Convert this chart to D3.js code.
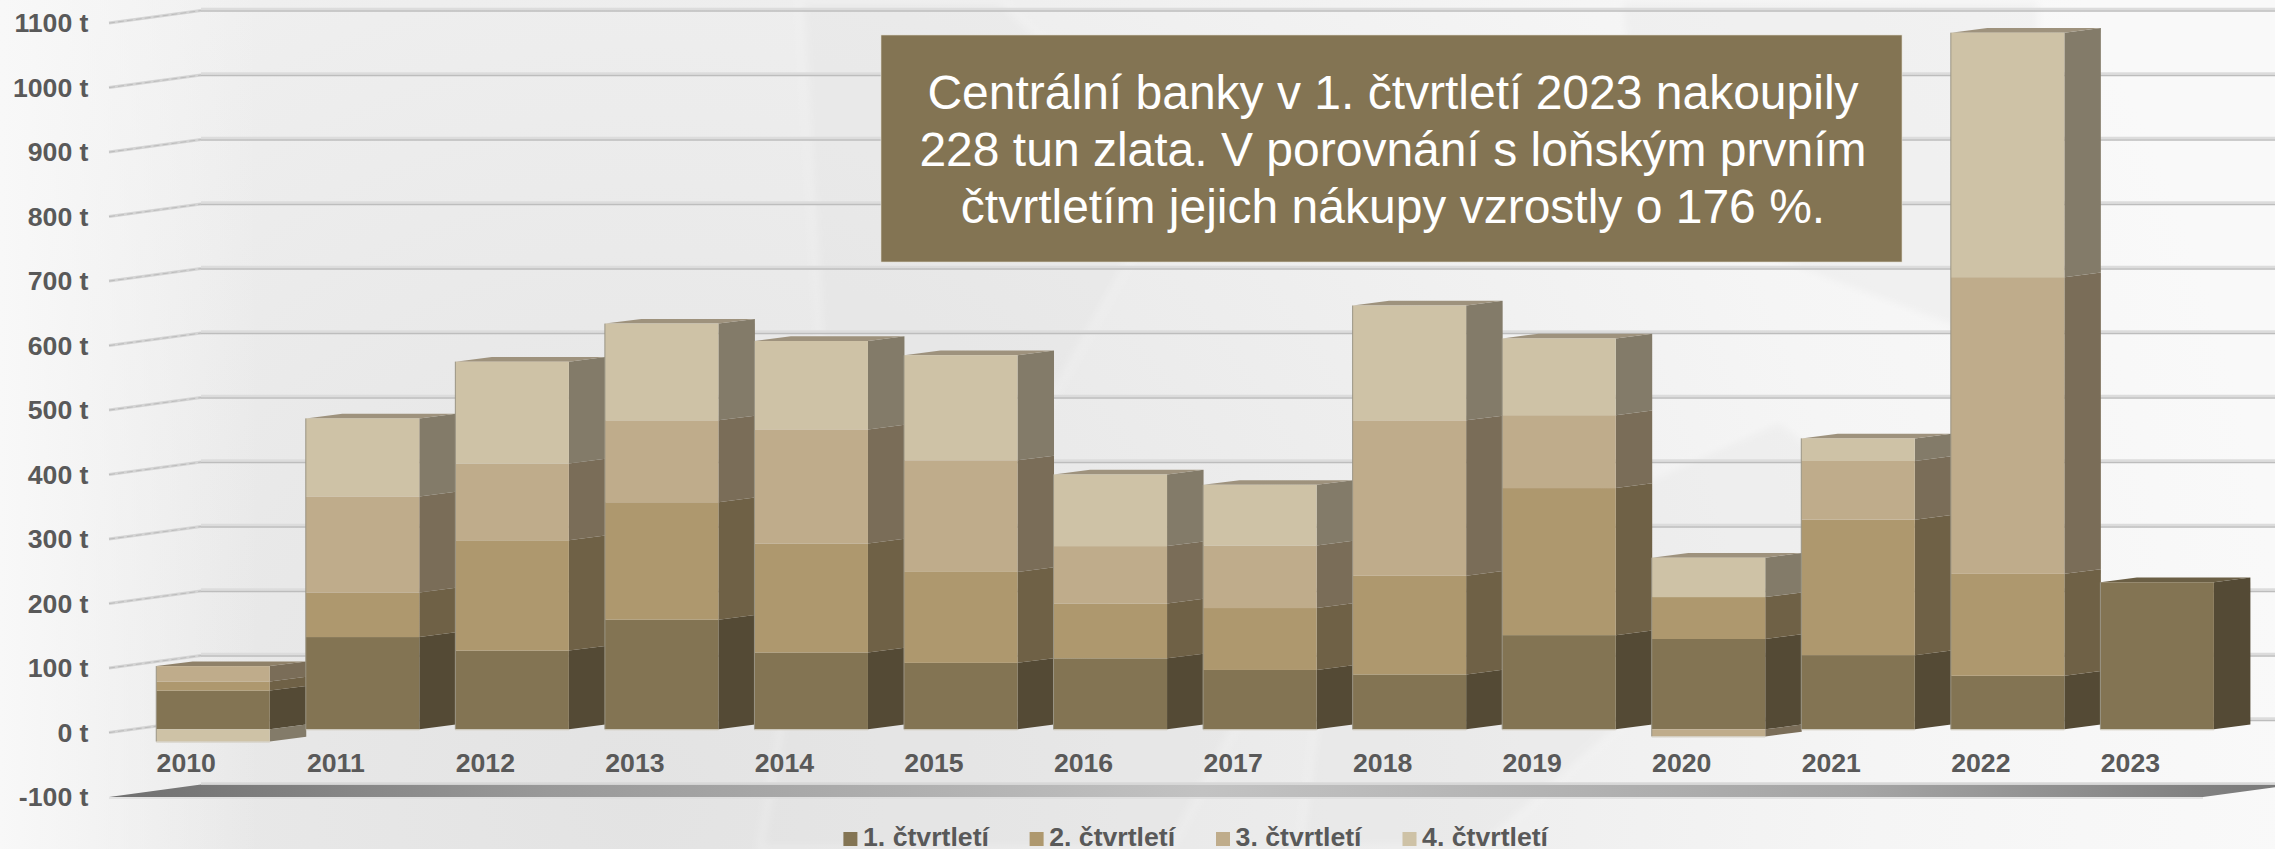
<!DOCTYPE html>
<html><head><meta charset="utf-8">
<script src="https://cdn.jsdelivr.net/npm/d3@7/dist/d3.min.js"></script>
<style>html,body{margin:0;padding:0;background:#f4f4f4;overflow:hidden}svg{display:block}</style>
</head><body><svg id="c" width="2275" height="849"></svg>
<script>
const years=["2010","2011","2012","2013","2014","2015","2016","2017","2018","2019","2020","2021","2022","2023"];
const q1=[60,143,122,170,119,103,110,92,85,146,140,115,83,228];
const q2=[14,69,171,182,169,141,85,96,153,228,65,210,158,0];
const q3=[24,149,119,127,177,173,89,97,241,113,-11,91,460,0];
const q4=[-19,121,158,150,137,163,111,94,178,119,61,35,379,0];
const seriesNames=["1. čtvrtletí","2. čtvrtletí","3. čtvrtletí","4. čtvrtletí"];
const frontColors=["#837453","#ae986e","#bfac8b","#cec2a6"];
const sideColors=["#544a35","#6f6146","#7a6d58","#837b69"];
const topColors=["#6b5f45","#8b7c5c","#8f8169","#9e927d"];
const yTicks=[-100,0,100,200,300,400,500,600,700,800,900,1000,1100];
const calloutLines=["Centrální banky v 1. čtvrtletí 2023 nakoupily","228 tun zlata. V porovnání s loňským prvním","čtvrtletím jejich nákupy vzrostly o 176 %."];

const svg=d3.select("#c"),W=2275,H=849;
const series=[q1,q2,q3,q4];
const x=d3.scaleBand().domain(years).range([156.25,2213.9]).paddingInner(0.241);
const y=d3.scaleLinear().domain([0,1100]).range([729.3,19.8]);
const dx=36.5,dz=-4.7;              // bar depth
const gdx=92,gdy=-12.5;             // wall depth
const tickY=v=>y(v)+3.3;            // front edge of the floor plane

const defs=svg.append("defs");
const bg=defs.append("radialGradient").attr("id","bg").attr("gradientUnits","userSpaceOnUse")
 .attr("cx",640).attr("cy",800).attr("r",1650);
[[0,"#e3e3e3"],[.25,"#e8e8e8"],[.5,"#eeeeee"],[.75,"#f5f5f5"],[1,"#f9f9f9"]].forEach(s=>bg.append("stop").attr("offset",s[0]).attr("stop-color",s[1]));
const lf=defs.append("linearGradient").attr("id","lf");
[[0,"#f8f8f8",1],[1,"#f8f8f8",0]].forEach(s=>lf.append("stop").attr("offset",s[0]).attr("stop-color",s[1]).attr("stop-opacity",s[2]));
const fl=defs.append("linearGradient").attr("id","floor");
[[0,"#6f6f6f"],[.2,"#999"],[.5,"#c2c2c2"],[.8,"#a5a5a5"],[1,"#777"]].forEach(s=>fl.append("stop").attr("offset",s[0]).attr("stop-color",s[1]));
defs.append("filter").attr("id","soft").append("feGaussianBlur").attr("stdDeviation",4);

svg.append("rect").attr("width",W).attr("height",H).attr("fill","url(#bg)");
svg.append("rect").attr("width",260).attr("height",H).attr("fill","url(#lf)");

// faint watermark of gold bars
const wm=svg.append("g").attr("filter","url(#soft)").attr("fill","#e2e2e2").attr("fill-opacity",.3).attr("stroke","#fff").attr("stroke-opacity",.45).attr("stroke-width",3);
[
 "M800,0 L1000,0 L1180,170 L1040,420 L820,340 Z",
 "M900,440 L1250,700 L1170,849 L760,849 L800,620 Z",
 "M1620,0 L2040,0 L2040,240 L1960,330 L1640,210 Z",
 "M1330,620 L1780,420 L1880,500 L1480,849 L1300,849 Z"
].forEach(d=>wm.append("path").attr("d",d));

// walls: grid lines and left ticks
const grid=svg.append("g");
yTicks.filter(v=>v>-100).forEach(v=>{
  const fy=tickY(v),by=fy+gdy;
  grid.append("line").attr("x1",109).attr("y1",fy).attr("x2",201).attr("y2",by).attr("stroke","#d4d4d4").attr("stroke-width",3);
  grid.append("line").attr("x1",109).attr("y1",fy).attr("x2",201).attr("y2",by).attr("stroke","#bdbdbd").attr("stroke-width",1).attr("stroke-dasharray","6 3");
  grid.append("line").attr("x1",201).attr("x2",W).attr("y1",by-1.6).attr("y2",by-1.6).attr("stroke","#dcdcdc").attr("stroke-width",2.6);
  grid.append("line").attr("x1",201).attr("x2",W).attr("y1",by+.4).attr("y2",by+.4).attr("stroke","#bdbdbd").attr("stroke-width",1.6);
});
// floor
const f0=tickY(-100);
svg.append("path").attr("d",`M109,${f0}L2203,${f0}L${2203+gdx},${f0+gdy}L201,${f0+gdy}Z`).attr("fill","url(#floor)");
svg.append("line").attr("x1",201).attr("x2",W).attr("y1",f0+gdy-1).attr("y2",f0+gdy-1).attr("stroke","#d8d8d8").attr("stroke-width",2.5);
svg.append("line").attr("x1",109).attr("x2",2203).attr("y1",f0+.8).attr("y2",f0+.8).attr("stroke","#dedede").attr("stroke-width",1.5);

// y tick labels
const lbl=(s,xx,yy,a)=>s.append("text").attr("x",xx).attr("y",yy).attr("text-anchor",a)
 .attr("font-family","'Liberation Sans',Arial,sans-serif").attr("font-weight",700).attr("font-size",26.67).attr("fill","#595959");
yTicks.forEach(v=>lbl(svg,88.5,tickY(v)+9,"end").text(v+" t"));

// bars
years.forEach((yr,i)=>{
  const g=svg.append("g"),x0=x(yr),w=x.bandwidth();
  let pos=0,neg=0,topIdx=-1,topY=null;
  const segs=[];
  series.forEach((s,k)=>{
    const v=s[i]; if(!v) return;
    let a,b;
    if(v>0){a=pos;b=pos+v;pos=b;topIdx=k;topY=b;} else {a=neg;b=neg+v;neg=b;}
    segs.push({k,y0:y(Math.max(a,b)),y1:y(Math.min(a,b))});
  });
  segs.forEach(d=>{
    g.append("path").attr("d",`M${x0+w},${d.y0}L${x0+w+dx},${d.y0+dz}L${x0+w+dx},${d.y1+dz}L${x0+w},${d.y1}Z`).attr("fill",sideColors[d.k]);
  });
  const ty=y(topY);
  g.append("path").attr("d",`M${x0},${ty}L${x0+dx},${ty+dz}L${x0+w+dx},${ty+dz}L${x0+w},${ty}Z`).attr("fill",topColors[topIdx]);
  segs.forEach(d=>{
    g.append("rect").attr("x",x0).attr("y",d.y0).attr("width",w).attr("height",d.y1-d.y0).attr("fill",frontColors[d.k]);
  });
  const bot=d3.max(segs,d=>d.y1);
  g.append("line").attr("x1",x0).attr("x2",x0).attr("y1",ty).attr("y2",bot).attr("stroke","#9a9484").attr("stroke-width",1);
  g.append("line").attr("x1",x0).attr("x2",x0+w).attr("y1",bot+.5).attr("y2",bot+.5).attr("stroke","#cfcabd").attr("stroke-width",1);
});

// category labels
years.forEach(yr=>lbl(svg,x(yr)+30,771.5,"middle").text(yr));

// callout
svg.append("rect").attr("x",881).attr("y",35).attr("width",1021).attr("height",227).attr("fill","#837453").attr("stroke","#e0dccf").attr("stroke-width",.6);
calloutLines.forEach((t,i)=>svg.append("text").attr("x",1393).attr("y",108.5+i*57.3).attr("text-anchor","middle")
  .attr("font-family","'Liberation Sans',Arial,sans-serif").attr("font-size",48).attr("fill","#fff").text(t));

// legend
[843.4,1029.6,1216,1402.5].forEach((lx,k)=>{
  svg.append("rect").attr("x",lx).attr("y",832).attr("width",14).attr("height",14).attr("fill",frontColors[k]);
  lbl(svg,lx+19.6,846,"start").text(seriesNames[k]);
});
</script></body></html>
